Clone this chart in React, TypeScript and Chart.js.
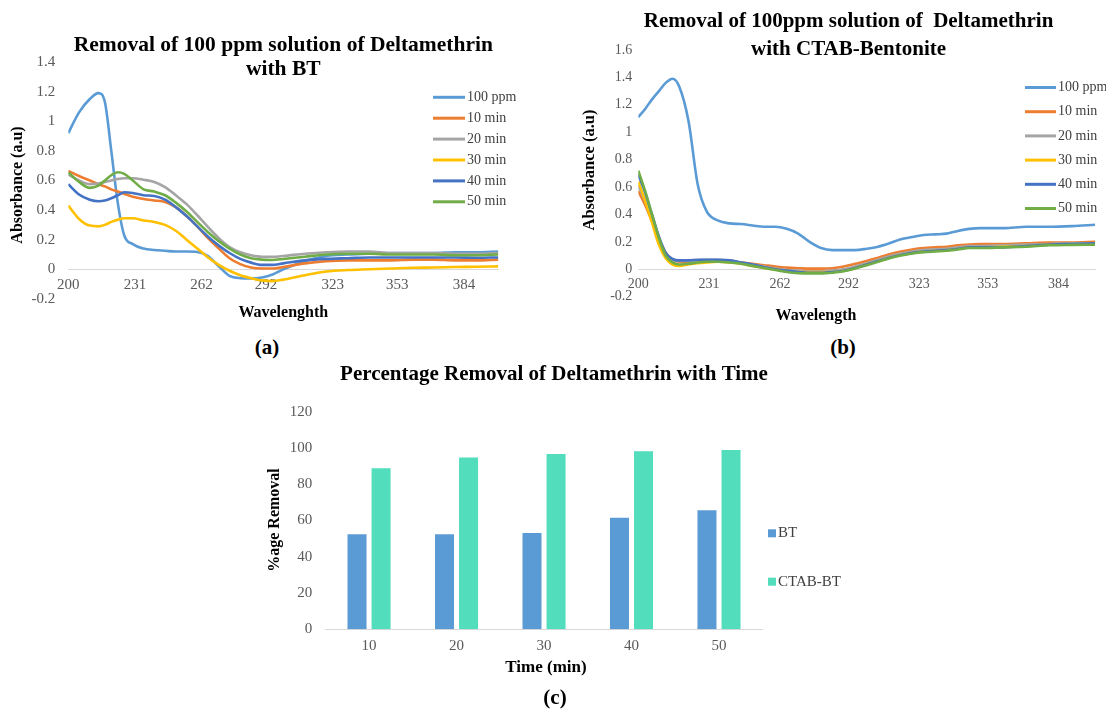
import React, { useEffect, useRef } from 'react';
import { Chart, registerables } from 'chart.js';

Chart.register(...registerables);

const SERIF = '"Liberation Serif", "Times New Roman", serif';

// ---------- shared ----------
const SERIES_LABELS = ['100 ppm', '10 min', '20 min', '30 min', '40 min', '50 min'];
const SERIES_COLORS = ['#5B9BD5', '#ED7D31', '#A5A5A5', '#FFC000', '#4472C4', '#70AD47'];
const WAVE_TICKS = [200, 231, 262, 292, 323, 353, 384];

// ---------- chart (a): BT ----------
const WAVE_A = [200, 205, 210, 214, 217, 220, 223, 226, 230, 235, 240, 245, 250, 255, 260, 265, 270, 275, 280, 285, 290, 295, 300, 310, 320, 330, 340, 350, 360, 370, 380, 390, 400];
const A_100PPM = [0.92, 1.06, 1.15, 1.19, 1.13, 0.8, 0.45, 0.23, 0.17, 0.14, 0.13, 0.125, 0.12, 0.12, 0.117, 0.09, 0.02, -0.045, -0.06, -0.062, -0.055, -0.035, 0, 0.055, 0.09, 0.1, 0.105, 0.11, 0.11, 0.11, 0.115, 0.115, 0.12];
const A_10MIN = [0.665, 0.63, 0.6, 0.575, 0.56, 0.54, 0.525, 0.51, 0.49, 0.475, 0.465, 0.455, 0.42, 0.36, 0.29, 0.21, 0.14, 0.075, 0.035, 0.012, 0.005, 0.005, 0.015, 0.04, 0.055, 0.06, 0.06, 0.06, 0.065, 0.065, 0.06, 0.06, 0.065];
const A_20MIN = [0.64, 0.6, 0.575, 0.58, 0.59, 0.6, 0.61, 0.615, 0.615, 0.605, 0.59, 0.555, 0.5, 0.44, 0.365, 0.285, 0.21, 0.15, 0.115, 0.095, 0.085, 0.085, 0.09, 0.105, 0.115, 0.12, 0.12, 0.11, 0.11, 0.11, 0.105, 0.105, 0.11];
const A_30MIN = [0.43, 0.34, 0.295, 0.29, 0.3, 0.32, 0.335, 0.345, 0.345, 0.33, 0.32, 0.3, 0.26, 0.2, 0.14, 0.08, 0.03, -0.01, -0.04, -0.06, -0.075, -0.08, -0.07, -0.04, -0.015, -0.005, 0, 0.005, 0.01, 0.012, 0.015, 0.017, 0.02];
const A_40MIN = [0.575, 0.505, 0.47, 0.46, 0.465, 0.48, 0.5, 0.52, 0.515, 0.5, 0.495, 0.47, 0.42, 0.36, 0.29, 0.22, 0.16, 0.11, 0.07, 0.045, 0.03, 0.03, 0.04, 0.06, 0.07, 0.075, 0.08, 0.08, 0.08, 0.08, 0.08, 0.078, 0.08];
const A_50MIN = [0.655, 0.59, 0.55, 0.565, 0.6, 0.635, 0.655, 0.645, 0.6, 0.54, 0.525, 0.5, 0.45, 0.39, 0.32, 0.25, 0.19, 0.14, 0.1, 0.075, 0.065, 0.063, 0.07, 0.085, 0.1, 0.105, 0.105, 0.1, 0.1, 0.1, 0.095, 0.095, 0.1];
const Y_TICKS_A = [-0.2, 0, 0.2, 0.4, 0.6, 0.8, 1, 1.2, 1.4];

// ---------- chart (b): CTAB-Bentonite ----------
const WAVE_B = [200, 203, 206, 209, 212, 215, 218, 222, 226, 230, 235, 240, 245, 250, 255, 260, 265, 270, 275, 280, 285, 290, 295, 300, 305, 310, 315, 320, 325, 330, 335, 340, 345, 350, 360, 370, 380, 390, 400];
const B_100PPM = [1.11, 1.17, 1.24, 1.3, 1.36, 1.39, 1.33, 1.08, 0.62, 0.42, 0.355, 0.335, 0.33, 0.32, 0.31, 0.31, 0.295, 0.26, 0.2, 0.155, 0.14, 0.14, 0.14, 0.15, 0.165, 0.19, 0.22, 0.235, 0.25, 0.255, 0.26, 0.28, 0.295, 0.3, 0.3, 0.31, 0.31, 0.315, 0.325];
const B_10MIN = [0.57, 0.47, 0.35, 0.22, 0.12, 0.07, 0.055, 0.055, 0.06, 0.065, 0.065, 0.06, 0.05, 0.04, 0.03, 0.02, 0.012, 0.008, 0.005, 0.005, 0.008, 0.02, 0.04, 0.06, 0.085, 0.11, 0.13, 0.145, 0.155, 0.16, 0.165, 0.175, 0.18, 0.185, 0.185, 0.19, 0.195, 0.195, 0.2];
const B_20MIN = [0.61, 0.5, 0.37, 0.23, 0.115, 0.07, 0.06, 0.06, 0.065, 0.07, 0.07, 0.065, 0.05, 0.035, 0.02, 0.005, -0.005, -0.01, -0.015, -0.015, -0.01, 0, 0.02, 0.045, 0.07, 0.095, 0.115, 0.13, 0.14, 0.145, 0.15, 0.16, 0.17, 0.17, 0.175, 0.18, 0.185, 0.19, 0.19];
const B_30MIN = [0.64, 0.5, 0.34, 0.18, 0.08, 0.035, 0.025, 0.035, 0.045, 0.05, 0.055, 0.05, 0.04, 0.025, 0.01, 0, -0.01, -0.02, -0.02, -0.02, -0.02, -0.01, 0.01, 0.035, 0.06, 0.085, 0.105, 0.12, 0.13, 0.135, 0.14, 0.15, 0.16, 0.16, 0.165, 0.17, 0.18, 0.18, 0.185];
const B_40MIN = [0.69, 0.56, 0.4, 0.24, 0.12, 0.075, 0.065, 0.065, 0.07, 0.07, 0.07, 0.065, 0.05, 0.035, 0.015, 0, -0.01, -0.02, -0.025, -0.025, -0.02, -0.01, 0.01, 0.035, 0.06, 0.085, 0.105, 0.12, 0.13, 0.135, 0.14, 0.15, 0.16, 0.16, 0.16, 0.17, 0.18, 0.185, 0.19];
const B_50MIN = [0.72, 0.57, 0.4, 0.23, 0.1, 0.05, 0.035, 0.04, 0.05, 0.055, 0.055, 0.05, 0.04, 0.025, 0.01, -0.005, -0.02, -0.028, -0.03, -0.03, -0.025, -0.015, 0.005, 0.03, 0.055, 0.08, 0.1, 0.115, 0.125, 0.13, 0.135, 0.145, 0.155, 0.155, 0.16, 0.165, 0.175, 0.178, 0.18];
const Y_TICKS_B = [-0.2, 0, 0.2, 0.4, 0.6, 0.8, 1, 1.2, 1.4, 1.6];

// ---------- chart (c): percentage removal ----------
const TIMES = ['10', '20', '30', '40', '50'];
const BT_REMOVAL = [52.4, 52.4, 53.1, 61.5, 65.6];
const CTAB_BT_REMOVAL = [88.8, 94.7, 96.7, 98.2, 98.9];
const Y_TICKS_C = [0, 20, 40, 60, 80, 100, 120];
const BAR_LABELS = ['BT', 'CTAB-BT'];
const BAR_COLORS = ['#5B9BD5', '#52DDBD'];

// ---------- helpers ----------
type Txt = { t: string; x: number; y: number; size: number; bold?: boolean; color?: string; rot?: boolean };

function textsPlugin(items: Txt[]) {
  return {
    id: 'texts',
    afterDraw(chart: any) {
      const ctx = chart.ctx;
      for (const it of items) {
        ctx.save();
        ctx.translate(it.x, it.y);
        if (it.rot) ctx.rotate(-Math.PI / 2);
        ctx.font = `${it.bold ? 'bold ' : ''}${it.size}px ${SERIF}`;
        ctx.fillStyle = it.color || '#000';
        ctx.textAlign = 'center';
        ctx.textBaseline = 'middle';
        ctx.fillText(it.t, 0, 0);
        ctx.restore();
      }
    },
  };
}

function legendPlugin(o: { x: number; y: number; gap: number; len: number; size: number; kind: 'line' | 'box' }) {
  return {
    id: 'posLegend',
    afterDraw(chart: any) {
      const ctx = chart.ctx;
      chart.data.datasets.forEach((ds: any, i: number) => {
        const y = o.y + i * o.gap;
        ctx.save();
        if (o.kind === 'line') {
          ctx.strokeStyle = ds.borderColor;
          ctx.lineWidth = 3;
          ctx.beginPath();
          ctx.moveTo(o.x, y);
          ctx.lineTo(o.x + o.len, y);
          ctx.stroke();
        } else {
          ctx.fillStyle = ds.backgroundColor;
          ctx.fillRect(o.x, y - o.len / 2, o.len, o.len);
        }
        ctx.font = `${o.size}px ${SERIF}`;
        ctx.fillStyle = '#404040';
        ctx.textAlign = 'left';
        ctx.textBaseline = 'middle';
        ctx.fillText(ds.label, o.x + o.len + 2, y);
        ctx.restore();
      });
    },
  };
}

const fmt = (v: number) => String(Math.round(v * 10) / 10);

function lineConfig(p: {
  waves: number[];
  series: number[][];
  yTicks: number[];
  yWidth: number;
  padding: { top: number; right: number; bottom: number; left: number };
  tickSize: number;
  yTickPad: number;
  texts: Txt[];
  legend: { x: number; y: number; gap: number; len: number; size: number };
}): any {
  return {
    type: 'line',
    data: {
      labels: p.waves,
      datasets: p.series.map((vals, i) => ({
        label: SERIES_LABELS[i],
        data: vals,
        borderColor: SERIES_COLORS[i],
        backgroundColor: SERIES_COLORS[i],
        borderWidth: 2.6,
        pointRadius: 0,
        fill: false,
        cubicInterpolationMode: 'monotone',
        order: p.series.length - i,
      })),
    },
    options: {
      responsive: false,
      devicePixelRatio: 1,
      animation: false,
      layout: { padding: p.padding },
      plugins: { legend: { display: false }, title: { display: false }, tooltip: { enabled: false } },
      scales: {
        x: {
          type: 'linear',
          min: 200,
          max: 400,
          position: { y: 0 },
          afterBuildTicks: (s: any) => {
            s.ticks = WAVE_TICKS.map((v) => ({ value: v }));
          },
          grid: { display: false, drawTicks: false },
          border: { display: true, color: '#D9D9D9', width: 1 },
          ticks: {
            padding: 7,
            autoSkip: false,
            maxRotation: 0,
            color: '#595959',
            font: { family: SERIF, size: p.tickSize },
            callback: (v: any) => String(v),
          },
        },
        y: {
          type: 'linear',
          min: p.yTicks[0],
          max: p.yTicks[p.yTicks.length - 1],
          afterBuildTicks: (s: any) => {
            s.ticks = p.yTicks.map((v) => ({ value: v }));
          },
          afterFit: (s: any) => {
            s.width = p.yWidth;
          },
          grid: { display: false, drawTicks: false },
          border: { display: false },
          ticks: {
            padding: p.yTickPad,
            color: '#595959',
            font: { family: SERIF, size: p.tickSize },
            callback: (v: any) => fmt(v),
          },
        },
      },
    },
    plugins: [textsPlugin(p.texts), legendPlugin({ ...p.legend, kind: 'line' })],
  };
}

function barConfig(): any {
  return {
    type: 'bar',
    data: {
      labels: TIMES,
      datasets: [BT_REMOVAL, CTAB_BT_REMOVAL].map((vals, i) => ({
        label: BAR_LABELS[i],
        data: vals,
        backgroundColor: BAR_COLORS[i],
        borderWidth: 0,
        categoryPercentage: 0.55,
        barPercentage: 0.79,
      })),
    },
    options: {
      responsive: false,
      devicePixelRatio: 1,
      animation: false,
      layout: { padding: { top: 51.7, right: 97.25, bottom: 30.7, left: 0 } },
      plugins: { legend: { display: false }, title: { display: false }, tooltip: { enabled: false } },
      scales: {
        x: {
          grid: { display: false, drawTicks: false },
          border: { display: true, color: '#D9D9D9', width: 1 },
          afterFit: (s: any) => {
            s.height = 30;
          },
          ticks: { padding: 8, color: '#595959', font: { family: SERIF, size: 15 } },
        },
        y: {
          min: 0,
          max: 120,
          afterBuildTicks: (s: any) => {
            s.ticks = Y_TICKS_C.map((v) => ({ value: v }));
          },
          afterFit: (s: any) => {
            s.width = 75.3;
          },
          grid: { display: false, drawTicks: false },
          border: { display: false },
          ticks: { padding: 13, color: '#595959', font: { family: SERIF, size: 15 } },
        },
      },
    },
    plugins: [
      textsPlugin([
        { t: 'Percentage Removal of Deltamethrin with Time', x: 304, y: 15, size: 21, bold: true },
        { t: '%age Removal', x: 25, y: 160, size: 16, bold: true, rot: true },
        { t: 'Time (min)', x: 296, y: 308, size: 17, bold: true },
      ]),
      legendPlugin({ x: 518, y: 173.3, gap: 48.4, len: 8, size: 15, kind: 'box' }),
    ],
  };
}

const configA = () =>
  lineConfig({
    waves: WAVE_A,
    series: [A_100PPM, A_10MIN, A_20MIN, A_30MIN, A_40MIN, A_50MIN],
    yTicks: Y_TICKS_A,
    yWidth: 68.3,
    padding: { top: 62, right: 46.7, bottom: 31.1, left: 0 },
    tickSize: 15,
    yTickPad: 13,
    texts: [
      { t: 'Removal of 100 ppm solution of Deltamethrin', x: 283.3, y: 45, size: 21.5, bold: true },
      { t: 'with BT', x: 283.3, y: 69.3, size: 21.5, bold: true },
      { t: 'Absorbance (a.u)', x: 18.3, y: 185, size: 16, bold: true, rot: true },
      { t: 'Wavelenghth', x: 283.3, y: 313, size: 16, bold: true },
    ],
    legend: { x: 433, y: 97.3, gap: 20.9, len: 32, size: 14 },
  });

const configB = () =>
  lineConfig({
    waves: WAVE_B,
    series: [B_100PPM, B_10MIN, B_20MIN, B_30MIN, B_40MIN, B_50MIN],
    yTicks: Y_TICKS_B,
    yWidth: 63.3,
    padding: { top: 50, right: 11, bottom: 33.3, left: 0 },
    tickSize: 14,
    yTickPad: 6,
    texts: [
      { t: 'Removal of 100ppm solution of  Deltamethrin', x: 273.6, y: 22, size: 21, bold: true },
      { t: 'with CTAB-Bentonite', x: 273.6, y: 50, size: 21, bold: true },
      { t: 'Absorbance (a.u)', x: 15, y: 170, size: 16.5, bold: true, rot: true },
      { t: 'Wavelength', x: 241, y: 316, size: 16, bold: true },
    ],
    legend: { x: 450, y: 87.5, gap: 24.2, len: 31, size: 14 },
  });

function ChartCanvas(props: { left: number; top: number; width: number; height: number; make: () => any }) {
  const ref = useRef<HTMLCanvasElement>(null);
  useEffect(() => {
    const chart = new Chart(ref.current as HTMLCanvasElement, props.make());
    return () => chart.destroy();
  }, []);
  return (
    <canvas
      ref={ref}
      width={props.width}
      height={props.height}
      style={{ position: 'absolute', left: props.left, top: props.top, width: props.width, height: props.height }}
    />
  );
}

function Caption(props: { text: string; x: number; y: number }) {
  return (
    <div
      style={{
        position: 'absolute',
        left: props.x,
        top: props.y,
        transform: 'translate(-50%, -50%)',
        font: `bold 21px ${SERIF}`,
        color: '#000',
        whiteSpace: 'nowrap',
      }}
    >
      {props.text}
    </div>
  );
}

export default function App() {
  return (
    <div style={{ position: 'absolute', left: 0, top: 0, width: 1106, height: 710, background: '#fff', overflow: 'hidden' }}>
      <ChartCanvas left={0} top={0} width={545} height={330} make={configA} />
      <ChartCanvas left={575} top={0} width={531} height={330} make={configB} />
      <ChartCanvas left={250} top={360} width={610} height={330} make={barConfig} />
      <Caption text="(a)" x={267} y={347} />
      <Caption text="(b)" x={843} y={347} />
      <Caption text="(c)" x={555} y={697} />
    </div>
  );
}
